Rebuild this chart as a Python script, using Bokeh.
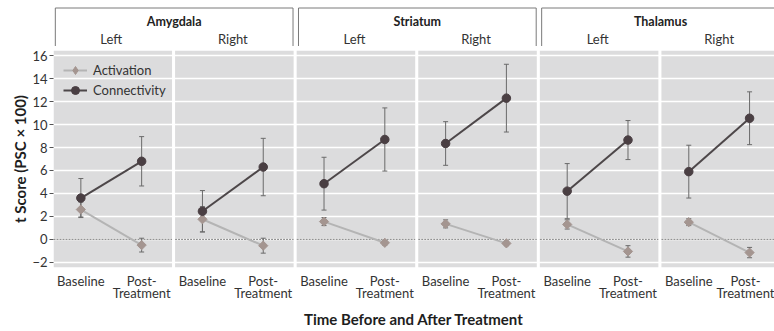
import math
from bokeh.plotting import figure
from bokeh.layouts import column
from bokeh.models import Range1d, FixedTicker, Legend, LegendItem
from bokeh.core.properties import value
from bokeh.embed import file_html
from bokeh.resources import INLINE

# ---------------- data ----------------
regions = ["Amygdala", "Striatum", "Thalamus"]
sides = ["Left", "Right"]
times = ["Baseline", "Post-\nTreatment"]

# panels in order: Amy-L, Amy-R, Str-L, Str-R, Tha-L, Tha-R
act_base = [2.6, 1.75, 1.55, 1.35, 1.3, 1.5]
act_base_err = [0.65, 1.1, 0.35, 0.35, 0.4, 0.3]
act_post = [-0.5, -0.55, -0.3, -0.35, -1.05, -1.15]
act_post_err = [0.6, 0.65, 0.2, 0.2, 0.5, 0.45]
con_base = [3.6, 2.45, 4.85, 8.35, 4.2, 5.9]
con_base_err = [1.7, 1.8, 2.3, 1.9, 2.4, 2.3]
con_post = [6.8, 6.3, 8.7, 12.3, 8.65, 10.55]
con_post_err = [2.15, 2.5, 2.75, 2.95, 1.7, 2.3]

y_ticks = [-2, 0, 2, 4, 6, 8, 10, 12, 14, 16]

FONT_NAME = "Lato"
FONT = value(FONT_NAME)
TXT = "#333333"
PANEL_BG = "#dcdcdd"
CON_C = "#4a3f43"
CON_LINE = "#4d4749"
ACT_C = "#a49590"
ACT_LINE = "#b4b4b4"
ERR_C = "#6a6a6a"

n_panels = len(regions) * len(sides)
OFF = [0.45, 1.45]       # offsets of the two time points inside a panel
PW = 1.95                # panel width in data units (pitch = 2)

def px(k, t):
    return round(2 * k + OFF[t], 2)

W = 774
LEFT = 53
xr = Range1d(0, 11.86)
yr = Range1d(-2.45, 16.45)

# ---------------- header figure ----------------
HH = 46
hp = figure(width=W, height=HH, x_range=xr, y_range=Range1d(0, HH),
            toolbar_location=None, output_backend="svg",
            x_axis_location=None, y_axis_location=None,
            min_border_left=LEFT, min_border_right=0, min_border_top=0, min_border_bottom=0,
            outline_line_color=None)
hp.grid.visible = False

box_xs, box_ys, reg_x = [], [], []
for r in range(len(regions)):
    l = 4 * r + 0.03
    rr = 4 * r + 3.94
    box_xs.append([l, l, rr, rr])
    box_ys.append([0, HH - 7.5, HH - 7.5, 0])
    reg_x.append((l + rr) / 2)
hp.multi_line(xs=box_xs, ys=box_ys, line_color="#7a7a7a", line_width=1)
hp.text(x=reg_x, y=[HH - 21] * len(regions), text=regions, text_font=FONT,
        text_font_style="bold", text_font_size="12.5px", text_color="#222222",
        text_align="center", text_baseline="middle")
side_x = [round(2 * k + (OFF[0] + OFF[1]) / 2, 3) for k in range(n_panels)]
side_t = [sides[k % 2] for k in range(n_panels)]
hp.text(x=side_x, y=[HH - 38] * n_panels, text=side_t, text_font=FONT,
        text_font_size="13px", text_color=TXT, text_align="center", text_baseline="middle")

# ---------------- main figure ----------------
p = figure(width=W, height=331 - HH, x_range=xr, y_range=yr,
           toolbar_location=None, output_backend="svg",
           min_border_left=LEFT, min_border_right=0, min_border_top=50 - HH, min_border_bottom=64,
           outline_line_color=None, background_fill_color="white")

# panel backgrounds
bg = p.quad(left=[2 * k for k in range(n_panels)], right=[2 * k + PW for k in range(n_panels)],
            bottom=[yr.start] * n_panels, top=[yr.end] * n_panels,
            fill_color=PANEL_BG, line_color=None)
bg.level = "image"

p.xgrid.visible = False
p.ygrid.ticker = FixedTicker(ticks=y_ticks)
p.ygrid.grid_line_color = "white"
p.ygrid.grid_line_width = 1.5

# zero line per panel
p.segment(x0=[2 * k for k in range(n_panels)], x1=[2 * k + PW for k in range(n_panels)],
          y0=[0] * n_panels, y1=[0] * n_panels, line_color="#808080", line_width=1,
          line_dash="2 1")

# error bars
ex, elo, ehi = [], [], []
for k in range(n_panels):
    for t, (vals, errs) in enumerate([(act_base, act_base_err), (act_post, act_post_err)]):
        ex.append(px(k, t)); elo.append(vals[k] - errs[k]); ehi.append(vals[k] + errs[k])
    for t, (vals, errs) in enumerate([(con_base, con_base_err), (con_post, con_post_err)]):
        ex.append(px(k, t)); elo.append(vals[k] - errs[k]); ehi.append(vals[k] + errs[k])
p.segment(x0=ex, x1=ex, y0=elo, y1=ehi, line_color=ERR_C, line_width=1)
p.scatter(x=ex + ex, y=elo + ehi, marker="dash", size=5, line_color=ERR_C, line_width=1)

# lines
xb = [px(k, 0) for k in range(n_panels)]
xp = [px(k, 1) for k in range(n_panels)]
act_line = p.segment(x0=xb, x1=xp, y0=act_base, y1=act_post, line_color=ACT_LINE, line_width=2)
con_line = p.segment(x0=xb, x1=xp, y0=con_base, y1=con_post, line_color=CON_LINE, line_width=2)

# markers
act_m = p.scatter(x=xb + xp, y=act_base + act_post, marker="square", angle=math.pi / 4,
                  size=6.5, fill_color=ACT_C, line_color=ACT_C)
con_m = p.scatter(x=xb + xp, y=con_base + con_post, marker="circle", size=8.5,
                  fill_color=CON_C, line_color=CON_C)
# legend-only glyph (diamond shape for the key), not drawn in the plot
act_key = p.scatter(x=xb, y=act_base, marker="diamond", size=8, fill_color=ACT_C,
                    line_color=ACT_C, visible=False)

# axes
p.yaxis.ticker = FixedTicker(ticks=y_ticks)
p.yaxis.major_label_overrides = {-2: "\u22122"}
p.yaxis.axis_line_color = None
p.yaxis.major_tick_out = 4
p.yaxis.major_tick_in = 0
p.yaxis.major_tick_line_color = "#555555"
p.yaxis.minor_tick_line_color = None
p.yaxis.major_label_standoff = 2
p.yaxis.axis_label = "t Score (PSC \u00d7 100)"
p.yaxis.axis_label_standoff = 0

tick_x = []
tick_lab = {}
for k in range(n_panels):
    for t in range(2):
        tick_x.append(px(k, t))
        tick_lab[px(k, t)] = times[t]
p.xaxis.ticker = FixedTicker(ticks=tick_x)
p.xaxis.major_label_overrides = tick_lab
p.xaxis.axis_line_color = None
p.xaxis.major_tick_line_color = None
p.xaxis.minor_tick_line_color = None
p.xaxis.major_tick_out = 0
p.xaxis.major_label_standoff = 5
p.xaxis.major_label_text_line_height = 0.8
p.xaxis.axis_label = "Time Before and After Treatment"
p.xaxis.axis_label_standoff = 6

for ax in (p.xaxis[0], p.yaxis[0]):
    ax.major_label_text_font = FONT_NAME
    ax.major_label_text_font_size = "13px"
    ax.major_label_text_color = TXT
    ax.axis_label_text_font = FONT_NAME
    ax.axis_label_text_font_size = "15px"
    ax.axis_label_text_font_style = "bold"
    ax.axis_label_text_color = "#1e1e1e"

legend = Legend(items=[LegendItem(label="Activation", renderers=[act_line, act_key]),
                       LegendItem(label="Connectivity", renderers=[con_line, con_m])],
                location="top_left", margin=10, padding=0, spacing=0,
                glyph_width=24, glyph_height=20, label_height=20, label_standoff=6,
                label_text_font=FONT_NAME, label_text_font_size="13px", label_text_color=TXT,
                border_line_color=None, background_fill_alpha=0,
                inactive_fill_alpha=0)
p.add_layout(legend)

layout = column(hp, p, spacing=0)
open("out.html", "w").write(file_html(layout, INLINE))
